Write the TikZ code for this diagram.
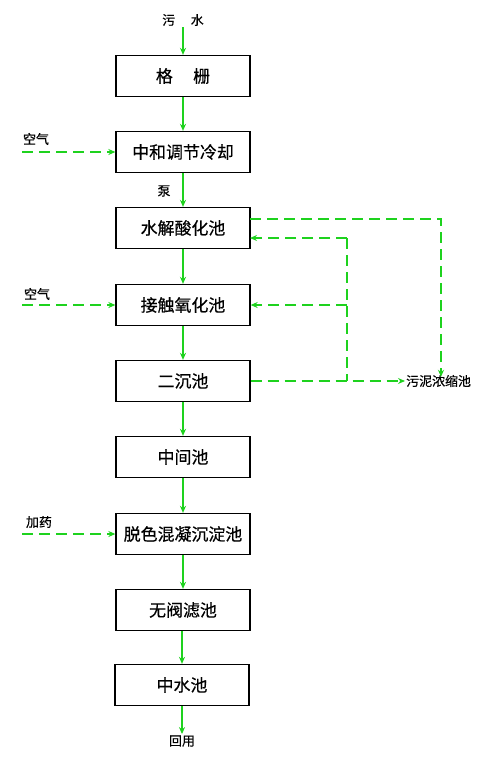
\documentclass[tikz,border=0pt]{standalone}
\usepackage{fontspec}
\newfontfamily\cjk[UprightFeatures={FakeBold=0.5}]{Noto Sans CJK SC}
\usetikzlibrary{arrows.meta}
\definecolor{flowgreen}{RGB}{30,210,30}
\tikzset{
  proc/.style={draw=black, line width=1.3bp, minimum width=134bp, minimum height=41bp, inner sep=0pt, font=\cjk\fontsize{17}{17}\selectfont},
  lbl/.style={inner sep=1bp, font=\cjk\fontsize{13}{13}\selectfont},
  flow/.style={draw=flowgreen, line width=1.5bp, -{Stealth[length=7bp,width=6bp]}},
  flowline/.style={draw=flowgreen, line width=1.5bp},
  dflow/.style={flow, dash pattern=on 11bp off 6bp},
  dline/.style={flowline, dash pattern=on 11bp off 6bp}
}
\begin{document}
\begin{tikzpicture}[x=1bp,y=-1bp]
\useasboundingbox (0,0) rectangle (500,764);
% process boxes
\node[proc] (b1) at (183,76) {格\hspace{1.2em}栅};
\node[proc] (b2) at (183,152) {中和调节冷却};
\node[proc] (b3) at (183,228) {水解酸化池};
\node[proc] (b4) at (183,305) {接触氧化池};
\node[proc] (b5) at (183,381) {二沉池};
\node[proc] (b6) at (183,457) {中间池};
\node[proc] (b7) at (183,534) {脱色混凝沉淀池};
\node[proc] (b8) at (183,610) {无阀滤池};
\node[proc] (b9) at (182,685) {中水池};
% labels
\node[lbl] (src) at (183,20) {污\hspace{1.2em}水};
\node[lbl] (out) at (182,741) {回用};
\node[lbl] (pump) at (164,191) {泵};
\node[lbl] (air1) at (36,139) {空气};
\node[lbl] (air2) at (37,294) {空气};
\node[lbl] (dose) at (39,522) {加药};
\node[lbl, anchor=west] (sludge) at (405,381) {污泥浓缩池};
% coordinates
\coordinate (a1) at (22,152);
\coordinate (a2) at (22,305);
\coordinate (a3) at (22,534);
\coordinate (r1) at (441,219);
\coordinate (r1s) at (250,219);
\coordinate (j1) at (347,238);
\coordinate (j1e) at (250,238);
\coordinate (j2) at (347,305);
\coordinate (j3) at (347,381);
% main flow
\draw[flow] (src.south) -- (b1.north);
\draw[flow] (b1.south) -- (b2.north);
\draw[flow] (b2.south) -- (b3.north);
\draw[flow] (b3.south) -- (b4.north);
\draw[flow] (b4.south) -- (b5.north);
\draw[flow] (b5.south) -- (b6.north);
\draw[flow] (b6.south) -- (b7.north);
\draw[flow] (b7.south) -- (b8.north);
\draw[flow] (b8.south -| b9.north) -- (b9.north);
\draw[flow] (b9.south) -- (out.north);
% inputs
\draw[dflow] (a1) -- (b2.west);
\draw[dflow] (a2) -- (b4.west);
\draw[dflow] (a3) -- (b7.west);
% sludge lines
\draw[dflow] (r1s) -- (r1) -- ([yshift=-3bp]sludge.north -| r1);
\draw[dflow] (j1) -- (j1e);
\draw[dline] (j1) -- (j3);
\draw[dflow] (j2) -- (b4.east);
\draw[dflow] (b5.east) -- (sludge.west);
\end{tikzpicture}
\end{document}
